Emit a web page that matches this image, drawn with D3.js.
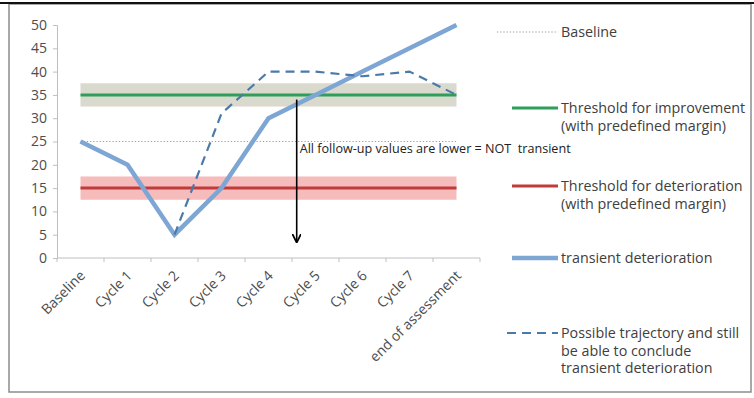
<!DOCTYPE html>
<html>
<head>
<meta charset="utf-8">
<script src="https://cdn.jsdelivr.net/npm/d3@7"></script>
<style>
  html, body { margin: 0; padding: 0; background: #fff; }
  svg { display: block; font-family: "Open Sans", "Liberation Sans", sans-serif; }
</style>
</head>
<body>
<svg id="chart" width="754" height="398"></svg>
<script>
// Categories along the x axis
const categories = ["Baseline", "Cycle 1", "Cycle 2", "Cycle 3", "Cycle 4", "Cycle 5", "Cycle 6", "Cycle 7", "end of assessment"];
// Observed course of the score
const transient = [25, 20, 5, 15, 30, 35, 40, 45, 50];
// Alternative course starting at Cycle 2 (null = not drawn)
const possible = [null, null, 5, 31, 40, 40, 39, 40, 35];
// Reference levels
const baselineLevel = 25;
const improvementLevel = 35;
const deteriorationLevel = 15;
const margin = 2.5;
const yTicks = [0, 5, 10, 15, 20, 25, 30, 35, 40, 45, 50];
// Vertical arrow: category position (fractional index) and value range
const arrowPos = 4.6, arrowFrom = 34, arrowTo = 3.5;
const noteText = "All follow-up values are lower = NOT  transient";

const svg = d3.select("#chart");

// Outer frame
svg.append("rect").attr("x", 9).attr("y", 4).attr("width", 742).attr("height", 388)
  .attr("fill", "#fff").attr("stroke", "#8c8c8c").attr("stroke-width", 1.5);
svg.append("line").attr("x1", 0).attr("x2", 754).attr("y1", 3).attr("y2", 3)
  .attr("stroke", "#111").attr("stroke-width", 2);

const x = d3.scalePoint().domain(categories).range([57, 480]).padding(0.5);
const y = d3.scaleLinear().domain([0, 50]).range([258, 25]);
const step = x.step();
const xAt = i => x(categories[0]) + i * step;
const x0 = x(categories[0]), x1 = x(categories[categories.length - 1]);

// Threshold bands
svg.append("rect").attr("x", x0).attr("width", x1 - x0)
  .attr("y", y(improvementLevel + margin)).attr("height", y(improvementLevel - margin) - y(improvementLevel + margin))
  .attr("fill", "#d9dacd");
svg.append("rect").attr("x", x0).attr("width", x1 - x0)
  .attr("y", y(deteriorationLevel + margin)).attr("height", y(deteriorationLevel - margin) - y(deteriorationLevel + margin))
  .attr("fill", "#f6bcbc");

// Axes
const yAxis = d3.axisLeft(y).tickValues(yTicks).tickSize(4).tickPadding(6);
const gy = svg.append("g").attr("transform", "translate(57,0)").call(yAxis);
gy.select(".domain").attr("stroke", "#bfbfbf");
gy.selectAll(".tick line").attr("stroke", "#bfbfbf");
gy.selectAll(".tick text").attr("fill", "#4d4d4d").style("font-size", "14px").style("font-family", "'Open Sans', sans-serif");

const gx = svg.append("g").attr("transform", "translate(0,258)");
gx.append("line").attr("x1", 57).attr("x2", 480).attr("stroke", "#bfbfbf");
gx.selectAll("line.tk").data(d3.range(categories.length + 1)).join("line")
  .attr("class", "tk").attr("x1", i => 57 + i * step).attr("x2", i => 57 + i * step)
  .attr("y1", 0).attr("y2", 4).attr("stroke", "#bfbfbf");
gx.selectAll("text").data(categories).join("text")
  .attr("transform", d => `translate(${x(d) + 2},${15}) rotate(-45)`)
  .attr("text-anchor", "end").attr("dy", "0.35em")
  .attr("fill", "#4d4d4d").style("font-size", "14px")
  .text(d => d);

// Level lines
const levelLine = (v, color, w, dash) => svg.append("line")
  .attr("x1", x0).attr("x2", x1).attr("y1", y(v)).attr("y2", y(v))
  .attr("stroke", color).attr("stroke-width", w).attr("stroke-dasharray", dash);
levelLine(baselineLevel, "#9a9a9a", 1, "1.2,2");
levelLine(improvementLevel, "#2e9e5b", 3, null);
levelLine(deteriorationLevel, "#c23b3b", 3, null);

// Series
const line = d3.line().defined(d => d.v != null).x(d => x(d.c)).y(d => y(d.v));
svg.append("path").datum(categories.map((c, i) => ({c, v: transient[i]})))
  .attr("d", line).attr("fill", "none").attr("stroke", "#7ea6d4").attr("stroke-width", 4.5)
  .attr("stroke-linejoin", "miter");
svg.append("path").datum(categories.map((c, i) => ({c, v: possible[i]})))
  .attr("d", line).attr("fill", "none").attr("stroke", "#4a7aa8").attr("stroke-width", 2.2)
  .attr("stroke-dasharray", "9,6");

// Arrow
svg.append("defs").append("marker").attr("id", "arrow")
  .attr("viewBox", "0 0 10 10").attr("refX", 9).attr("refY", 5)
  .attr("markerWidth", 9).attr("markerHeight", 9).attr("markerUnits", "userSpaceOnUse")
  .attr("orient", "auto")
  .append("path").attr("d", "M0,0 L10,5 L0,10").attr("fill", "none").attr("stroke", "#000").attr("stroke-width", 2);
svg.append("line").attr("x1", xAt(arrowPos)).attr("x2", xAt(arrowPos))
  .attr("y1", y(arrowFrom)).attr("y2", y(arrowTo))
  .attr("stroke", "#000").attr("stroke-width", 1.6).attr("marker-end", "url(#arrow)");
svg.append("text").attr("x", xAt(arrowPos) + 3).attr("y", y(22.6))
  .attr("fill", "#222").style("font-size", "12.6px").style("white-space", "pre")
  .text(noteText);

// Legend
const legend = [
  {y: 32, x1: 497, lines: ["Baseline"], stroke: "#9a9a9a", w: 1, dash: "1.2,2"},
  {y: 108, x1: 512, lines: ["Threshold for improvement", "(with predefined margin)"], stroke: "#2e9e5b", w: 3, dash: null},
  {y: 186, x1: 512, lines: ["Threshold for deterioration", "(with predefined margin)"], stroke: "#c23b3b", w: 3, dash: null},
  {y: 258, x1: 512, lines: ["transient deterioration"], stroke: "#7ea6d4", w: 4.5, dash: null},
  {y: 333, x1: 507, lines: ["Possible trajectory and still", "be able to conclude", "transient deterioration"], stroke: "#4a7aa8", w: 2.2, dash: "9,6"}
];
const lg = svg.append("g").selectAll("g").data(legend).join("g");
lg.append("line").attr("x1", d => d.x1).attr("x2", 558).attr("y1", d => d.y).attr("y2", d => d.y)
  .attr("stroke", d => d.stroke).attr("stroke-width", d => d.w).attr("stroke-dasharray", d => d.dash);
lg.each(function(d) {
  d3.select(this).selectAll("text").data(d.lines).join("text")
    .attr("x", 561).attr("y", (t, i) => d.y + i * 17.5).attr("dy", "0.35em")
    .attr("fill", "#404040").style("font-size", "14.3px").text(t => t);
});
</script>
</body>
</html>
